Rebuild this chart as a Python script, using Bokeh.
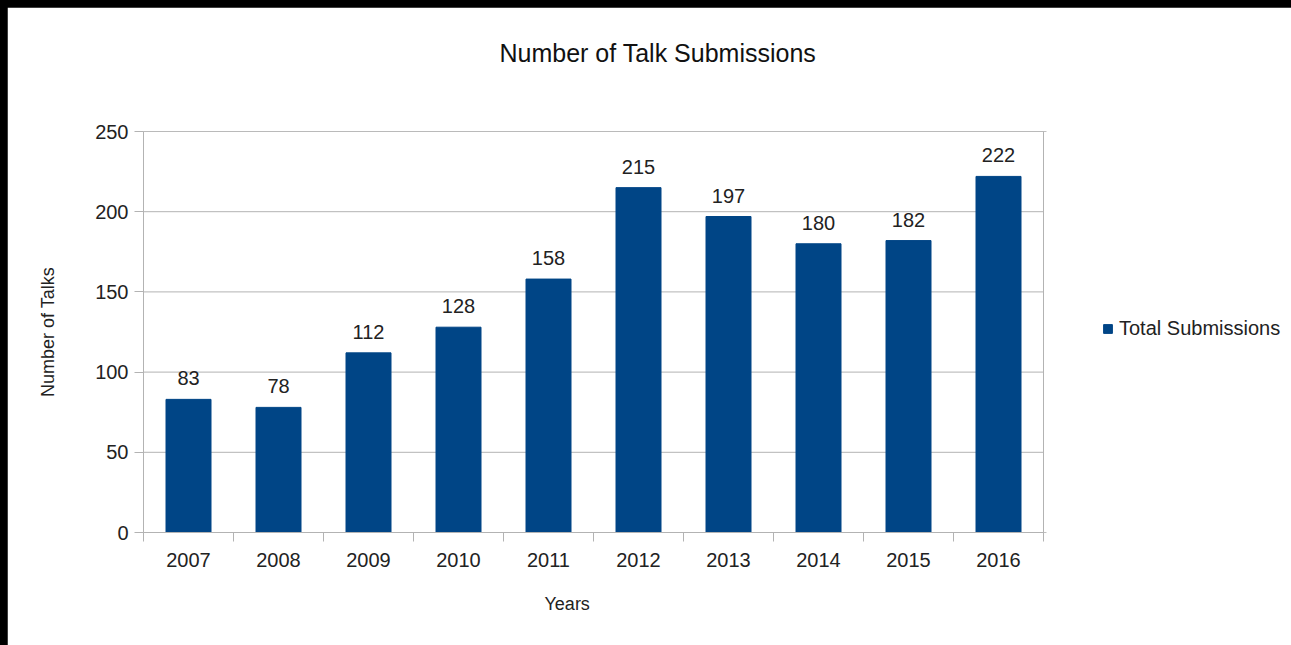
import numpy as np
from bokeh.plotting import figure
from bokeh.models import Range1d, FixedTicker, Title, ColumnDataSource, Legend, LegendItem
from bokeh.layouts import column
from bokeh.core.properties import value
from bokeh.embed import file_html
from bokeh.resources import INLINE

years = ["2007", "2008", "2009", "2010", "2011", "2012", "2013", "2014", "2015", "2016"]
submissions = [83, 78, 112, 128, 158, 215, 197, 180, 182, 222]
y_ticks = [0, 50, 100, 150, 200, 250]
series_name = "Total Submissions"

FONT = "Liberation Sans"
BAR = "#004586"
GRID = "#b3b3b3"
TXT = "#222222"

n = len(years)
xpos = np.arange(n) + 0.5
src = ColumnDataSource(dict(x=xpos, y=submissions, lbl=[str(v) for v in submissions]))

# frame spans to the right edge so the legend can live inside it;
# the plotting area proper covers categories 0..n (900 px of 1148 px)
x_end = n * 1148 / 900
ymax = max(y_ticks)

p = figure(width=1284, height=638, margin=(7, 0, 0, 7),
           output_backend="svg", toolbar_location=None,
           x_range=Range1d(0, x_end), y_range=Range1d(0, ymax),
           min_border_left=136, min_border_right=0,
           min_border_top=124, min_border_bottom=113)
p.border_fill_color = "white"
p.background_fill_color = "white"
p.outline_line_color = None

# spacer (closest to frame) then the main title above it
spacer = Title(text=" ", text_font_size="1px", standoff=60)
p.add_layout(spacer, "above")
t = Title(text="Number of Talk Submissions", align="left", offset=356, standoff=0,
          vertical_align="top",
          text_font=FONT, text_font_size="25px", text_font_style="normal", text_color="#111111")
p.add_layout(t, "above")

# horizontal grid lines and right border of the plot area
gl = y_ticks[1:]
p.segment(x0=[0] * len(gl), x1=[n] * len(gl), y0=gl, y1=gl, line_color=GRID, line_width=1)
p.segment(x0=[n], x1=[n], y0=[0], y1=[ymax], line_color=GRID, line_width=1)

bars = p.vbar(x="x", top="y", width=0.5, bottom=0, source=src, color=BAR)
p.text(x="x", y="y", text="lbl", source=src, text_align="center",
       text_baseline="bottom", y_offset=-14, text_font=value(FONT),
       text_font_size="20px", text_color=TXT)

# keep the legend strip (right of the plot area) free of frame edge lines
cover_start = n * (1 + 3 / 900)
p.segment(x0=[cover_start] * 2, x1=[x_end] * 2, y0=[0, ymax], y1=[0, ymax],
          line_color="white", line_width=4, level="overlay")

# x axis
xa = p.xaxis[0]
xa.bounds = (0, n)
xa.ticker = FixedTicker(ticks=list(xpos), minor_ticks=list(range(n + 1)))
xa.major_label_overrides = {float(x): y for x, y in zip(xpos, years)}
xa.major_tick_out = 0
xa.major_tick_in = 0
xa.major_tick_line_color = None
xa.minor_tick_out = 9
xa.minor_tick_in = 0
xa.minor_tick_line_color = GRID
xa.axis_line_color = GRID
xa.major_label_standoff = 11
xa.major_label_text_font = FONT
xa.major_label_text_font_size = "20px"
xa.major_label_text_color = TXT

xt = Title(text="Years", align="left", offset=401, standoff=44,
           text_font=FONT, text_font_size="18px", text_font_style="normal", text_color=TXT)
p.add_layout(xt, "below")

# y axis
ya = p.yaxis[0]
ya.ticker = FixedTicker(ticks=y_ticks)
ya.minor_tick_line_color = None
ya.major_tick_out = 9
ya.major_tick_in = 0
ya.major_tick_line_color = GRID
ya.axis_line_color = GRID
ya.major_label_standoff = 6
ya.major_label_text_font = FONT
ya.major_label_text_font_size = "20px"
ya.major_label_text_color = TXT
ya.axis_label = "Number of Talks"
ya.axis_label_text_font = FONT
ya.axis_label_text_font_size = "18px"
ya.axis_label_text_font_style = "normal"
ya.axis_label_text_color = TXT
ya.axis_label_standoff = 34

p.xgrid.visible = False
p.ygrid.visible = False

lg = Legend(items=[LegendItem(label=series_name, renderers=[bars])],
            location=(959, 192), padding=0, margin=0, border_line_color=None,
            background_fill_alpha=0, glyph_width=11, glyph_height=11,
            label_standoff=6, label_text_font=FONT, label_text_font_size="20px",
            label_text_color=TXT)
p.add_layout(lg)

root = column(p, width=1291, height=645, styles={"background-color": "black"})
open("out.html", "w").write(file_html(root, INLINE))
